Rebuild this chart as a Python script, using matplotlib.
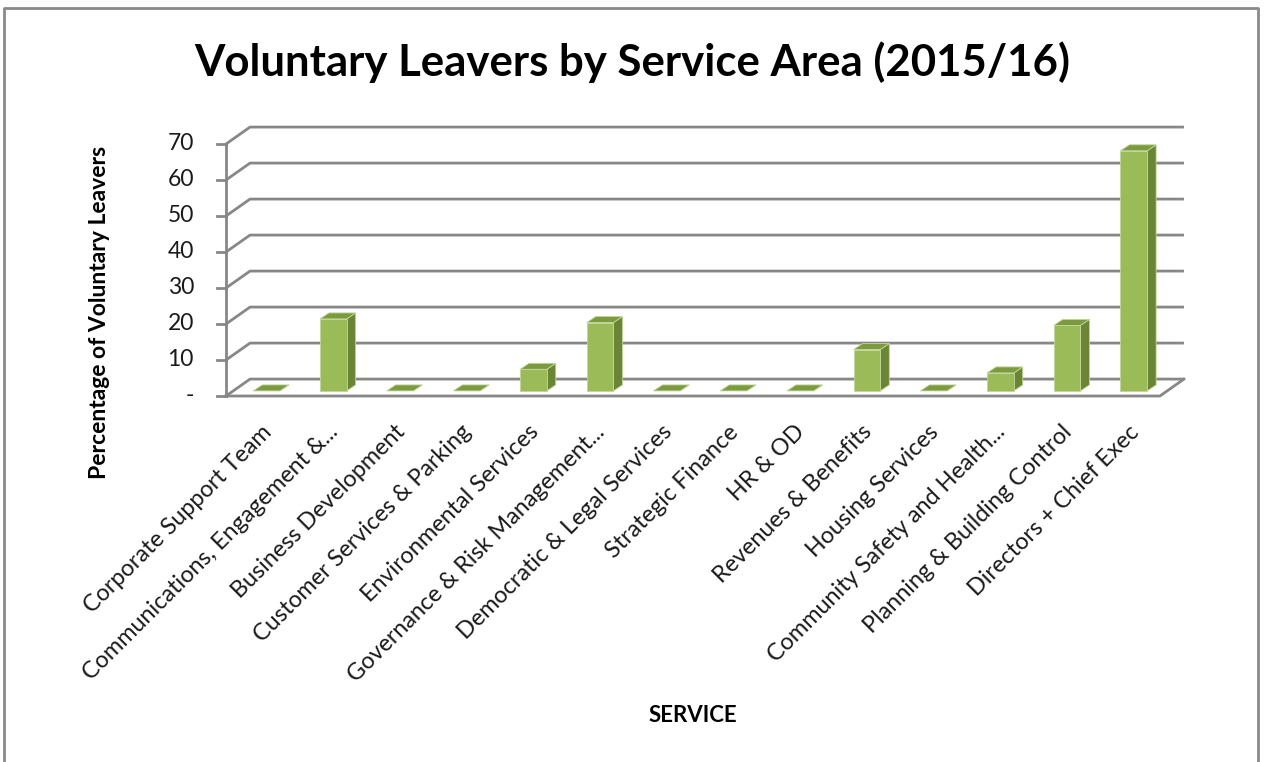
import matplotlib
matplotlib.use('Agg')
import matplotlib.pyplot as plt
from matplotlib.patches import Polygon, Rectangle

plt.rcParams['font.family'] = ['Lato', 'DejaVu Sans']

# data
services = ['Corporate Support Team', 'Communications, Engagement &...',
            'Business Development', 'Customer Services & Parking',
            'Environmental Services', 'Governance & Risk Management...',
            'Democratic & Legal Services', 'Strategic Finance', 'HR & OD',
            'Revenues & Benefits', 'Housing Services',
            'Community Safety and Health...', 'Planning & Building Control',
            'Directors + Chief Exec']
leavers_pct = [0, 20, 0, 0, 6, 19, 0, 0, 0, 11.5, 0, 5, 18.2, 66.7]
y_ticks = [0, 10, 20, 30, 40, 50, 60, 70]
y_tick_labels = ['-', '10', '20', '30', '40', '50', '60', '70']

# pseudo 3-D geometry (data units)
n = len(services)
depth_x, depth_y = 0.36, 4.7      # floor / wall depth
bar_w = 0.4                       # front face width
bar_dx, bar_dy = 0.135, 1.67      # bar depth
pos = 0.3                         # where bars sit inside the depth

front = '#9BBB59'
side = '#6A8536'
top = '#7C9B3F'
edge = '#C2D69A'
grid_c = '#878787'

W, H = 1264, 762
fig = plt.figure(figsize=(W / 100, H / 100), dpi=100)
fig.patch.set_facecolor('white')

# axes placed so one category = 66.7 px and 10 % = 36 px
x0, x1 = -0.5, n - 0.5 + depth_x
y0, y1 = -1, 75
px_x, px_y = 66.71, 3.6
left_px, zero_px = 226, 396
ax = fig.add_axes([left_px / W, (H - (zero_px - y0 * px_y)) / H,
                   (x1 - x0) * px_x / W, (y1 - y0) * px_y / H])
ax.set_xlim(x0, x1)
ax.set_ylim(y0, y1)
ax.axis('off')

# back wall grid lines with the left diagonal
for v in y_ticks:
    ax.plot([x0, x0 + depth_x, n - 0.5 + depth_x], [v, v + depth_y, v + depth_y],
            color=grid_c, lw=2, solid_capstyle='butt', clip_on=False, zorder=1)

# floor front edge and right edge
ax.plot([x0, n - 0.5, n - 0.5 + depth_x], [0, 0, depth_y],
        color=grid_c, lw=2, clip_on=False, zorder=1)

# vertical value axis with ticks
ax.plot([x0, x0], [0, 70], color=grid_c, lw=2, clip_on=False, zorder=2)
for v, lab in zip(y_ticks, y_tick_labels):
    ax.plot([x0 - 0.13, x0], [v, v], color=grid_c, lw=2, clip_on=False)
    ax.text(x0 - 0.48, v, lab, ha='right', va='center', fontsize=16.5,
            color='#1a1a1a')

# bars
for i, v in enumerate(leavers_pct):
    cx = i + pos * depth_x
    by = pos * depth_y
    l, r = cx - bar_w / 2, cx + bar_w / 2
    ax.add_patch(Polygon([(r, by), (r + bar_dx, by + bar_dy),
                          (r + bar_dx, by + v + bar_dy), (r, by + v)],
                         closed=True, fc=side, ec=edge, lw=0.6, zorder=3))
    ax.add_patch(Polygon([(l, by + v), (r, by + v), (r + bar_dx, by + v + bar_dy),
                          (l + bar_dx, by + v + bar_dy)],
                         closed=True, fc=top, ec=edge, lw=0.6, zorder=3))
    if v > 0:
        ax.add_patch(Rectangle((l, by), bar_w, v, fc=front, ec=edge,
                               lw=0.6, zorder=4))

# category labels
for i, s in enumerate(services):
    ax.text(i + 0.02, -7, s, rotation=45, rotation_mode='anchor',
            ha='right', va='top', fontsize=16.8, color='#1a1a1a')

fig.text(632 / W, 1 - 62 / H, 'Voluntary Leavers by Service Area (2015/16)',
         ha='center', va='center', fontsize=31.5, fontweight='bold')
fig.text(100 / W, 1 - 312 / H, 'Percentage of Voluntary Leavers', rotation=90,
         ha='center', va='center', fontsize=16.5, fontweight='bold')
fig.text(693 / W, 1 - 715 / H, 'SERVICE', ha='center', va='center',
         fontsize=16, fontweight='bold')

# outer chart border
fig.add_artist(plt.Line2D([4 / W, 4 / W, 1258 / W, 1258 / W],
                          [0, 1 - 8 / H, 1 - 8 / H, 0],
                          color='#8A8A8A', lw=2))

fig.savefig('out.png', dpi=100)
